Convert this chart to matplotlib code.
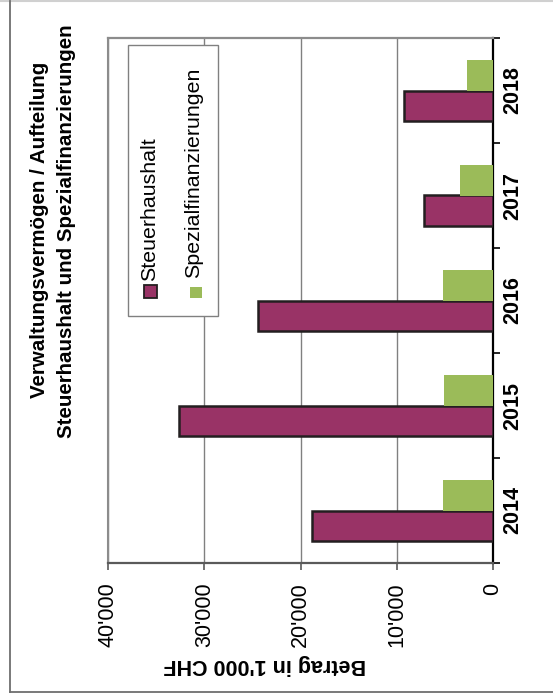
import numpy as np
import matplotlib
matplotlib.use('Agg')
from matplotlib import pyplot as plt
from matplotlib.patches import Rectangle
from matplotlib.lines import Line2D

plt.rc('font', family='Liberation Sans')

# Werte in 1'000 CHF
jahre = ['2014', '2015', '2016', '2017', '2018']
steuerhaushalt = [18850, 32600, 24450, 7150, 9200]
spezialfin = [5150, 5050, 5150, 3400, 2700]
wert_ticks = [0, 10000, 20000, 30000, 40000]

col_steuer = '#993366'
col_spez = '#9bbb59'

W, H = 553, 699
fig = plt.figure(figsize=(W/100, H/100), dpi=100)

def fx(px): return px/W
def fy(py): return 1 - py/H

# Diagramm ist um 90 Grad gedreht: Balken horizontal, 0 rechts
ax = fig.add_axes([fx(108), fy(563), fx(493)-fx(108), fy(38)-fy(563)])
pos = np.arange(len(jahre))
bh = 0.286
ax.barh(pos - bh/2, steuerhaushalt, height=bh, color=col_steuer,
        edgecolor='#231f20', linewidth=1.8, zorder=3)
ax.barh(pos + bh/2, spezialfin, height=bh, color=col_spez, zorder=3)

ax.set_xlim(40000, 0)
ax.set_ylim(-0.5, len(jahre) - 0.5)

ax.set_xticks(wert_ticks, labels=[f"{v:,}".replace(',', "'") for v in wert_ticks],
              rotation=90, ha='center', va='top', rotation_mode='default',
              fontsize=15.5)
ax.tick_params(axis='x', length=5, width=1.2, color='#5a5a5a', pad=9)
ax.grid(axis='x', color='#808080', lw=1, zorder=0)
ax.set_axisbelow(True)

ax.yaxis.tick_right()
ax.set_yticks(np.arange(-0.5, len(jahre)), labels=[])
ax.set_yticks(pos, labels=jahre, minor=True, rotation=90, fontweight='bold',
              fontsize=15.5, va='center', ha='left', rotation_mode='default')
ax.tick_params(axis='y', which='minor', length=0, pad=7)
ax.tick_params(axis='y', which='major', length=5, width=1.2, color='black')

ax.spines['right'].set_color('black')
ax.spines['right'].set_linewidth(1.6)
ax.spines['bottom'].set_color('#5a5a5a')
ax.spines['bottom'].set_linewidth(1.6)
ax.spines['top'].set_color('#8c8c8c')
ax.spines['top'].set_linewidth(1.6)
ax.spines['left'].set_color('#8c8c8c')
ax.spines['left'].set_linewidth(1.5)

# Titel (gedreht)
fig.text(fx(39.5), fy(230), 'Verwaltungsvermögen / Aufteilung', rotation=90,
         ha='center', va='center', fontsize=14.8, fontweight='bold')
fig.text(fx(66.5), fy(231), 'Steuerhaushalt und Spezialfinanzierungen', rotation=90,
         ha='center', va='center', fontsize=14.8, fontweight='bold')

# Achsentitel (kopfueber)
fig.text(fx(265), fy(665), "Betrag in 1'000 CHF", rotation=180,
         ha='center', va='center', fontsize=15.5, fontweight='bold')

# Legende
fig.add_artist(Rectangle((fx(128), fy(316)), fx(218)-fx(128), fy(45)-fy(316),
                         transform=fig.transFigure, facecolor='white',
                         edgecolor='#808080', lw=1, zorder=5))
fig.add_artist(Rectangle((fx(144), fy(298)), 13/W, 13/H, transform=fig.transFigure,
                         facecolor=col_steuer, edgecolor='#231f20', lw=1.3, zorder=6))
fig.add_artist(Rectangle((fx(190), fy(298)), 12/W, 11/H, transform=fig.transFigure,
                         facecolor=col_spez, edgecolor='none', zorder=6))
fig.text(fx(150), fy(281), 'Steuerhaushalt', rotation=90, ha='center', va='bottom',
         fontsize=15.4, zorder=7)
fig.text(fx(194), fy(278), 'Spezialfinanzierungen', rotation=90, ha='center', va='bottom',
         fontsize=15.4, zorder=7)

# Rahmen
fig.add_artist(Line2D([0, 1], [fy(1), fy(1)], transform=fig.transFigure, color='#d0d0d0', lw=1.5))
fig.add_artist(Line2D([fx(9.5), fx(9.5)], [fy(1), fy(692)], transform=fig.transFigure, color='#6e6e6e', lw=1.3))
fig.add_artist(Line2D([fx(9.5), 1], [fy(692), fy(692)], transform=fig.transFigure, color='#6e6e6e', lw=1.3))

plt.savefig('out.png', dpi=100)
